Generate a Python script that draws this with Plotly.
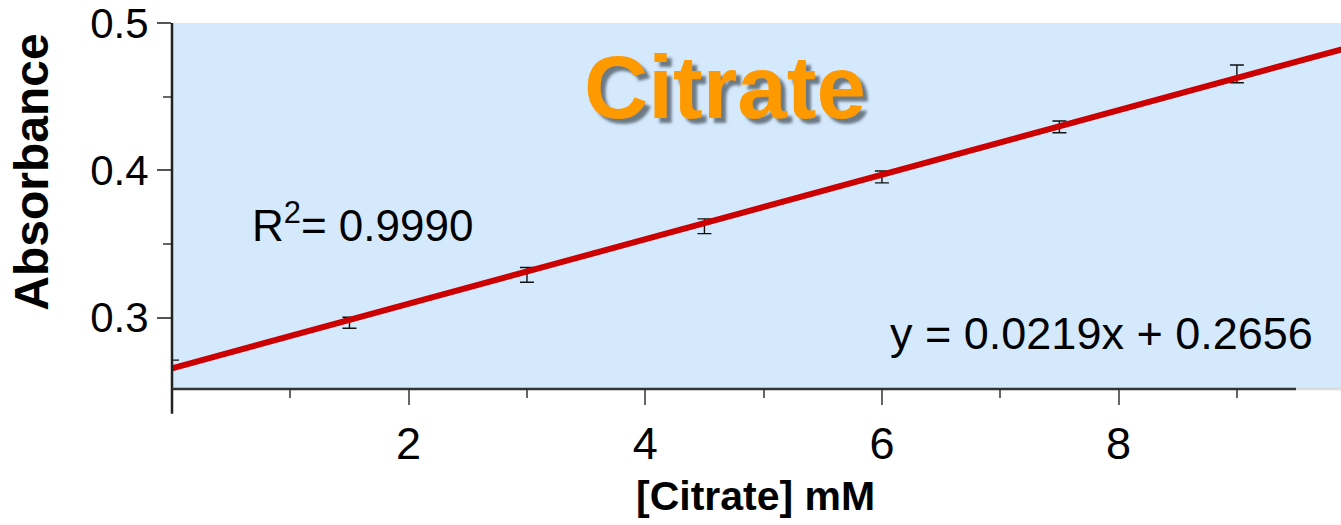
import plotly.graph_objects as go

# ---- data ----
conc = [0, 1.5, 3, 4.5, 6, 7.5, 9]
absorbance = [0.2685, 0.2965, 0.329, 0.362, 0.3955, 0.4295, 0.4655]
abs_err = [0.0026, 0.0037, 0.005, 0.005, 0.004, 0.004, 0.006]
slope = 0.0219
intercept = 0.2656
fit_x = [0, 10]
fit_y = [slope * v + intercept for v in fit_x]
x_major_ticks = [2, 4, 6, 8]
y_major_ticks = [0.3, 0.4, 0.5]
y_tick_labels = ["0.3", "0.4", "0.5"]

W, H = 1341, 525
L, R, T, B = 172, 0, 20, 136
PW, PH = W - L - R, H - T - B

def px(xp):
    return (xp - L) / PW

def py(yp):
    return (H - B - yp) / PH

FONT = "Arial, Liberation Sans, sans-serif"

fig = go.Figure()
fig.add_trace(go.Scatter(
    x=conc, y=absorbance, mode="markers",
    marker=dict(size=1, color="rgba(0,0,0,0)"),
    error_y=dict(type="data", array=abs_err, visible=True,
                 color="#111111", thickness=1.4, width=7),
    cliponaxis=False, showlegend=False, hoverinfo="skip"))
fig.add_trace(go.Scatter(
    x=fit_x, y=fit_y, mode="lines",
    line=dict(color="#CC0000", width=6),
    showlegend=False, hoverinfo="skip"))

fig.update_layout(
    width=W, height=H,
    margin=dict(l=L, r=R, t=T, b=B, pad=0),
    paper_bgcolor="white",
    plot_bgcolor="#D5E9FD",
    font=dict(family=FONT, color="black"),
    xaxis=dict(range=[0, 9.88], tickvals=x_major_ticks, ticks="outside",
               ticklen=15, tickwidth=2, tickcolor="#666666",
               showgrid=False, zeroline=False, showline=False,
               ticklabeloverflow="allow",
               tickfont=dict(size=45, family=FONT),
               minor=dict(dtick=1, tick0=1, ticks="outside", ticklen=8,
                          tickwidth=2, tickcolor="#666666", showgrid=False)),
    yaxis=dict(range=[0.2515, 0.50005], tickvals=y_major_ticks,
               ticktext=y_tick_labels, ticks="outside",
               ticklen=14, tickwidth=2, tickcolor="#555555",
               showgrid=False, zeroline=False, showline=False,
               ticklabeloverflow="allow",
               tickfont=dict(size=42, family=FONT),
               minor=dict(tickvals=[0.35, 0.45], ticks="outside", ticklen=8,
                          tickwidth=2, tickcolor="#666666", showgrid=False)),
)

# axis lines
fig.add_shape(type="line", xref="paper", yref="paper",
              x0=0, x1=0, y0=py(414), y1=1,
              line=dict(color="#222222", width=2.5), layer="above")
fig.add_shape(type="line", xref="x", yref="paper",
              x0=0, x1=9.5, y0=0, y1=0,
              line=dict(color="#333333", width=2.5), layer="above")
fig.add_shape(type="line", xref="x", yref="paper",
              x0=9.5, x1=9.88, y0=0, y1=0,
              line=dict(color="#DDDDDD", width=2.5), layer="above")

# titles and labels
fig.add_annotation(text="<b>Citrate</b>", xref="paper", yref="paper",
                   x=px(725), y=py(85), xanchor="center", yanchor="middle",
                   showarrow=False,
                   font=dict(size=89, color="#FF9900", family=FONT,
                             shadow="5px 5px 3px #6B7A86"))
fig.add_annotation(text="<b>Absorbance</b>", xref="paper", yref="paper",
                   x=px(32), y=py(171), xanchor="center", yanchor="middle",
                   textangle=-90, showarrow=False,
                   font=dict(size=48, color="black", family=FONT))
fig.add_annotation(text="<b>[Citrate] mM</b>", xref="paper", yref="paper",
                   x=px(755), y=py(497), xanchor="center", yanchor="middle",
                   showarrow=False,
                   font=dict(size=41, color="black", family=FONT))
fig.add_annotation(text="R<sup>2</sup>= 0.9990", xref="paper", yref="paper",
                   x=px(250), y=py(221), xanchor="left", yanchor="middle",
                   showarrow=False,
                   font=dict(size=44, color="black", family=FONT))
fig.add_annotation(text=f"y = {slope:.4f}x + {intercept:.4f}", xref="paper", yref="paper",
                   x=px(1315), y=py(333), xanchor="right", yanchor="middle",
                   showarrow=False,
                   font=dict(size=45, color="black", family=FONT))

fig.write_html("out.html")
